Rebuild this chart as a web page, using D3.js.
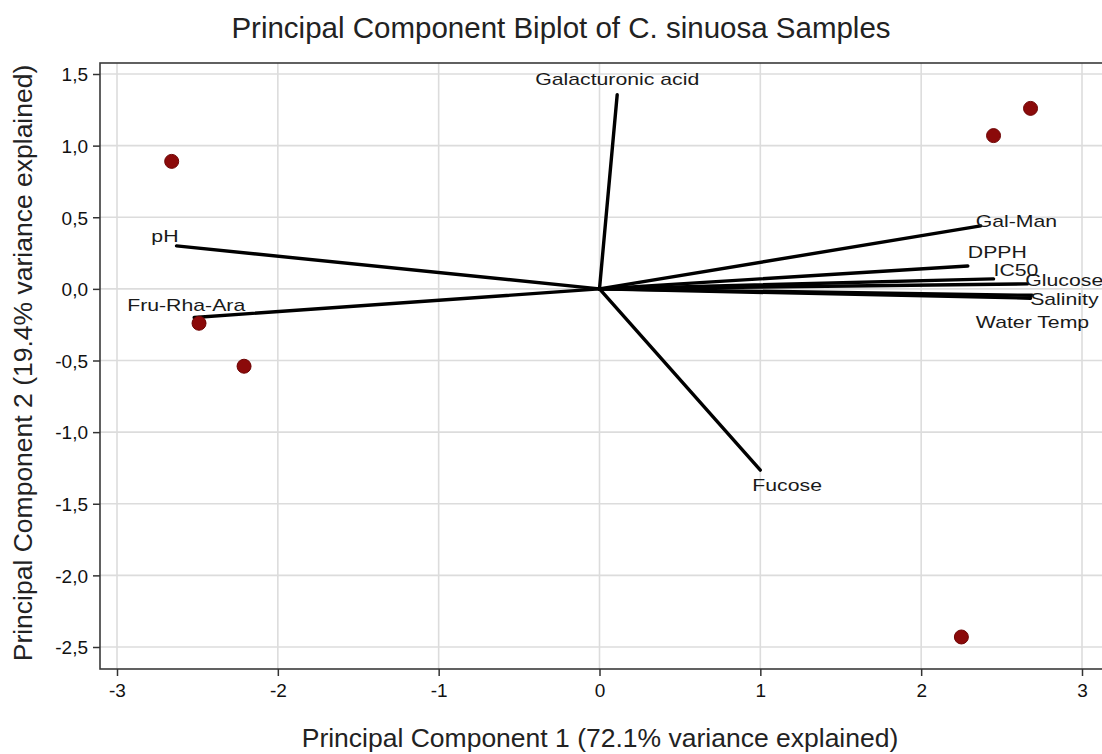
<!DOCTYPE html>
<html>
<head>
<meta charset="utf-8">
<script src="https://cdn.jsdelivr.net/npm/d3@7"></script>
<style>
  body { margin: 0; background: #fff; }
  text { font-family: "Liberation Sans", Arial, sans-serif; }
</style>
</head>
<body>
<svg id="chart" width="1102" height="754"></svg>
<script>
// sample scores (PC1, PC2)
var sampleX = [-2.66, -2.49, -2.21, 2.45, 2.68, 2.25];
var sampleY = [0.89, -0.24, -0.54, 1.07, 1.26, -2.43];

// variable loadings
var varNames = ["Galacturonic acid", "pH", "Fru-Rha-Ara", "Gal-Man", "DPPH", "IC50", "Glucose", "Salinity", "Water Temp", "Fucose"];
var loadX = [0.11, -2.63, -2.52, 2.37, 2.29, 2.45, 2.66, 2.69, 2.68, 1.00];
var loadY = [1.355, 0.30, -0.20, 0.44, 0.16, 0.07, 0.035, -0.045, -0.065, -1.265];

var xTicks = [-3, -2, -1, 0, 1, 2, 3];
var yTicks = [1.5, 1.0, 0.5, 0.0, -0.5, -1.0, -1.5, -2.0, -2.5];

// label nudges (px) and anchors, same order as varNames
var labelNudge = [
  [0, -10, "middle"], [2, -4, "end"], [-8, -7, "middle"], [-5, 1, "start"],
  [0, -8, "start"], [0, -3, "start"], [-2, 2, "start"], [-2, 10, "start"],
  [2, 30, "middle"], [-8, 21, "start"]
];

var svg = d3.select("#chart");
var pLeft = 100, pTop = 63, pRight = 1106, pBottom = 669;

var x = d3.scaleLinear().domain([-3, 3]).range([117, 1082]);
var y = d3.scaleLinear().domain([-2.5, 1.5]).range([647, 74]);

// grid
svg.append("g").selectAll("line").data(xTicks).join("line")
  .attr("x1", d => x(d)).attr("x2", d => x(d))
  .attr("y1", pTop).attr("y2", pBottom)
  .attr("stroke", "#dcdcdc").attr("stroke-width", 1.6);
svg.append("g").selectAll("line").data(yTicks).join("line")
  .attr("y1", d => y(d)).attr("y2", d => y(d))
  .attr("x1", pLeft).attr("x2", pRight)
  .attr("stroke", "#dcdcdc").attr("stroke-width", 1.6);

// panel border
svg.append("rect").attr("x", pLeft).attr("y", pTop)
  .attr("width", pRight - pLeft).attr("height", pBottom - pTop)
  .attr("fill", "none").attr("stroke", "#3a3a3a").attr("stroke-width", 1.6);

// axes
var fmt = d => d3.format(".1f")(d).replace(".", ",").replace("−", "-");
var xAxis = svg.append("g").attr("transform", "translate(0," + pBottom + ")")
  .call(d3.axisBottom(x).tickValues(xTicks).tickSize(7).tickFormat(d => String(d)));
var yAxis = svg.append("g").attr("transform", "translate(" + pLeft + ",0)")
  .call(d3.axisLeft(y).tickValues(yTicks).tickSize(7).tickFormat(fmt));
[xAxis, yAxis].forEach(function(a) {
  a.select(".domain").remove();
  a.selectAll(".tick line").attr("stroke", "#333").attr("stroke-width", 1.5);
  a.selectAll(".tick text").attr("fill", "#111")
    .style("font-family", "'Liberation Sans', Arial, sans-serif").style("font-size", "19px");
});
xAxis.selectAll(".tick text").attr("y", 15);
yAxis.selectAll(".tick text").attr("x", -12).attr("dy", "0.36em");

// loading vectors
var origin = [x(0), y(0)];
svg.append("g").selectAll("line").data(varNames).join("line")
  .attr("x1", origin[0]).attr("y1", origin[1])
  .attr("x2", (d, i) => x(loadX[i])).attr("y2", (d, i) => y(loadY[i]))
  .attr("stroke", "#000").attr("stroke-width", 3.4).attr("stroke-linecap", "round");

// sample points
svg.append("g").selectAll("circle").data(sampleX).join("circle")
  .attr("cx", d => x(d)).attr("cy", (d, i) => y(sampleY[i]))
  .attr("r", 7).attr("fill", "#8b0a0a").attr("stroke", "#6e0505").attr("stroke-width", 1);

// vector labels
svg.append("g").selectAll("text").data(varNames).join("text")
  .attr("transform", (d, i) => "translate(" + (x(loadX[i]) + labelNudge[i][0]) + "," +
    (y(loadY[i]) + labelNudge[i][1]) + ") scale(1.25,1)")
  .attr("text-anchor", (d, i) => labelNudge[i][2])
  .attr("font-size", 17).attr("fill", "#1a1a1a")
  .text(d => d);

// titles
svg.append("text").attr("x", 561).attr("y", 38).attr("text-anchor", "middle")
  .attr("font-size", 29.5).attr("fill", "#222")
  .text("Principal Component Biplot of C. sinuosa Samples");
svg.append("text").attr("x", 600).attr("y", 747).attr("text-anchor", "middle")
  .attr("font-size", 26.5).attr("fill", "#222")
  .text("Principal Component 1 (72.1% variance explained)");
svg.append("text").attr("transform", "translate(32,363) rotate(-90)").attr("text-anchor", "middle")
  .attr("font-size", 26.5).attr("fill", "#222")
  .text("Principal Component 2 (19.4% variance explained)");
</script>
</body>
</html>
